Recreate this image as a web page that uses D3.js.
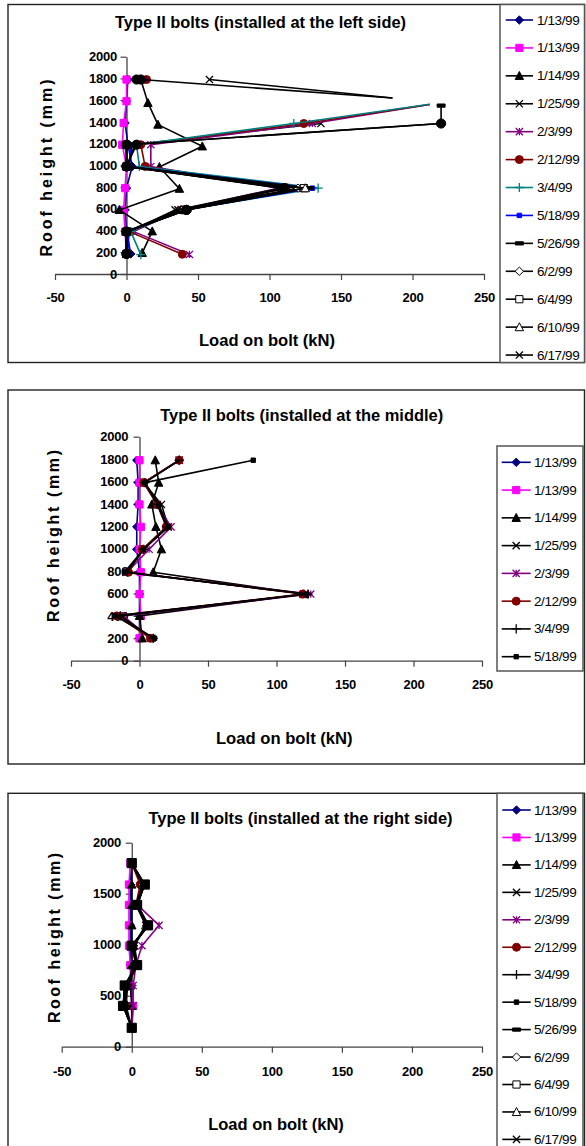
<!DOCTYPE html>
<html><head><meta charset="utf-8">
<script src="https://cdn.jsdelivr.net/npm/d3@7"></script>
<style>body{margin:0;background:#fff}svg{display:block}text{font-family:"Liberation Sans",Arial,sans-serif}</style>
</head><body>
<svg id="c" width="586" height="1146"></svg>
<script>
// ---------------- DATA ----------------
const xTicks = [-50, 0, 50, 100, 150, 200, 250];
const yTicks200 = [0, 200, 400, 600, 800, 1000, 1200, 1400, 1600, 1800, 2000];
const yTicks500 = [0, 500, 1000, 1500, 2000];

const legendNames = ['1/13/99','1/13/99','1/14/99','1/25/99','2/3/99','2/12/99','3/4/99','5/18/99','5/26/99','6/2/99','6/4/99','6/10/99','6/17/99'];

// Panel 1 (left side): [load kN, roof height mm]; null = gap in the line.
// Measured rows; points off these rows are line ends without a recorded marker.
const leftRows = [1790, 1575, 1590, 1550, 1390, 1385, 1375, 1190, 1175, 990, 985, 790, 785, 590, 393, 390, 195, 185, 182, 180, 178];
const left_0113a = [[1,1790],[0,1590],[-1,1390],[1,1190],[4,990],[0,790],[-1,590],[0,390],[3,185]];
const left_0113b = [[0,1790],[0,1590],[-2,1390],[-3,1190],[0,990],[-1,790],[-2,590],[-1,390],[0,185]];
const left_0114  = [[10,1790],[15,1575],[22,1375],[53,1175],[23,985],[37,785],[-5,590],[18,393],[11,195]];
const left_0125  = [[58,1790],[186,1620],null,[136,1385],[4,1190],[2,990],[124,790],[34,590],[2,390],[0,185]];
const left_0203  = [[212,1560],[130,1385],[17,1190],[17,990],[106,790],[38,590],[5,390],[44,180]];
const left_0212  = [[14,1790],null,[212,1560],[124,1385],[10,1190],[13,990],[111,790],[39,590],[2,390],[39,182]];
const left_0304  = [[212,1562],[117,1385],[7,1190],[9,990],[134,790],[40,590],[3,390],[10,178]];
const left_0518  = [[12,1790],null,[3,1190],[2,990],[130,790],[41,590],[1,390],[2,185]];
const left_0526  = [[10,1790],[186,1620],null,[220,1550],[220,1385],[0,1190],[0,990],[128,790],[42,590],[0,390],[0,185]];
const left_0602  = [[6,1190],[0,990],[120,790],[38,590],[0,390],[0,185]];
const left_0604  = [[0,1190],[0,990],[124,790],[40,590],[0,390],[0,185]];
const left_0610  = [[0,1190],[0,990],[125,790],[41,590],[0,390],[0,185]];
const left_0617  = [[0,1190],[0,990],[108,790],[36,590],[0,390],[0,185]];
const left_more1 = [[7,1790],null,[220,1385],[0,1190],[0,990],[111,790],[42,590],[0,390],[0,185]];
const left_more2 = [[10,1790],null,[7,1190],[0,990],[110,790],[42,590],[0,390],[0,185]];

// Panel 2 (middle): loads at each roof height
const midHeights = [1790, 1590, 1395, 1195, 995, 790, 595, 400, 200];
const mid_0113a = [-2, -1, -1, -2, -2, 0, 0, 0, 0];
const mid_0113b = [0, 0, 0, 1, 0, 1, 0, 1, 0];
const mid_0114  = [11.5, 14, 9, 12, 16, 10, 120, 0, 2];
const mid_0125  = [29, 3, 16, 21, 3, -10, 121, -15, 9];
const mid_0203  = [29, 3, 13, 23, 7, -9, 125, -12, 8];
const mid_0212  = [29, 3, 13, 19.5, 2, -8, 119, -16.5, 8];
const mid_0304  = [29, 4, 13, 20, 3, -9, 123, -14, 10];
const mid_0518  = [83, 4, 14, 21, 3, -11, 122, -18, 11];

// Panel 3 (right side)
const rightHeights = [1800, 1590, 1390, 1190, 990, 800, 600, 400, 185];
const right_0113a = [0, -1, -1, -1, -1, -1, 0, 0, 0];
const right_0113b = [-1, -2, -2, -2, -2, -1, -1, 1, 0];
const right_0114  = [0, 0, 0, 0, 0, 0, -1, 0, 0];
const right_0125  = [0, 8, 4, 10, 2, 4, -3, -4, 0];
const right_0203  = [0, 7, 4, 19.5, 7.3, 3, 1, 1, 0];
const right_0212  = [0, 6, 3, 12, 1, 4, -4, -5, 0];
const right_0304  = [0, 8, 4, 11, 1, 3, -4, -5, 0];
const right_0518  = [0, 9, 4, 12, 0, 4, -5, -6, 0];
const right_0526  = [0, 9, 3, 12, 0, 3, -5, -6, 0];
const right_0602  = [0, 8, 3, 11, 1, 3, -4, -5, 0];
const right_0604  = [0, 9, 4, 12, 0, 4, -5, -6, 0];
const right_0610  = [0, 8, 3, 10, 1, 4, -4, -5, 0];
const right_0617  = [0, 9, 4, 11, 1, 3, -4, -5, 0];
const right_more  = [0, 9.3, 3.8, 11.6, 0, 3.8, -5, -6.2, 0];

// ---------------- STYLES ----------------
const markerTypes = ['diamond','square','triangle','x','star','circle','plus','smallsq','dash','odiamond','osquare','otriangle','x'];
const colorsLeft  = ['#000080','#FF00FF','#000000','#000000','#800080','#800000','#008080','#0000FF','#000000','#000000','#000000','#000000','#000000'];
const colorsOther = ['#000080','#FF00FF','#000000','#000000','#800080','#800000','#000000','#000000','#000000','#000000','#000000','#000000','#000000'];

const pairs = (hs, vs) => vs.map((v, i) => [v, hs[i]]);

function markerPath(t) {
  const r = 3.6;
  switch (t) {
    case 'diamond': case 'odiamond': return `M0,${-r-0.6}L${r+0.6},0L0,${r+0.6}L${-r-0.6},0Z`;
    case 'square': case 'osquare': return `M${-r},${-r}h${2*r}v${2*r}h${-2*r}Z`;
    case 'triangle': case 'otriangle': return `M0,${-r-0.8}L${r+0.6},${r}L${-r-0.6},${r}Z`;
    case 'x': return `M${-r},${-r}L${r},${r}M${r},${-r}L${-r},${r}`;
    case 'star': return `M${-r},${-r}L${r},${r}M${r},${-r}L${-r},${r}M0,${-r}V${r}`;
    case 'circle': return `M${r+0.4},0A${r+0.4},${r+0.4} 0 1 1 ${-r-0.4},0A${r+0.4},${r+0.4} 0 1 1 ${r+0.4},0Z`;
    case 'bigcircle': return `M4.6,0A4.6,4.6 0 1 1 -4.6,0A4.6,4.6 0 1 1 4.6,0Z`;
    case 'bigsquare': return `M-4.6,-4.6h9.2v9.2h-9.2Z`;
    case 'plus': return `M${-r-1},0H${r+1}M0,${-r-1}V${r+1}`;
    case 'smallsq': return `M-2.2,-2.2h4.4v4.4h-4.4Z`;
    case 'dash': return `M-4,-1.6h8v3.2h-8Z`;
  }
}
function styleMarker(sel, t, color) {
  const open = t.startsWith('o');
  const stroked = (t === 'x' || t === 'star' || t === 'plus');
  sel.attr('d', markerPath(t))
    .attr('fill', stroked ? 'none' : (open ? '#fff' : color))
    .attr('stroke', color)
    .attr('stroke-width', stroked ? 1.3 : 1);
}

const svg = d3.select('#c');

function drawPanel(cfg) {
  const g = svg.append('g');
  const xs = d3.scaleLinear().domain([-50, 250]).range(cfg.xr);
  const ys = d3.scaleLinear().domain([0, 2000]).range(cfg.yr);

  g.append('rect').attr('x', cfg.frame[0]).attr('y', cfg.frame[1])
    .attr('width', cfg.frame[2] - cfg.frame[0]).attr('height', cfg.frame[3] - cfg.frame[1])
    .attr('fill', '#fff').attr('stroke', '#222').attr('stroke-width', 1.4);

  const xAxis = d3.axisBottom(xs).tickValues(xTicks).tickSize(6).tickSizeOuter(0)
    .tickPadding(cfg.xpad).tickFormat(d => String(d));
  const gx = g.append('g').attr('transform', `translate(0,${ys(0)})`).call(xAxis);
  const yAxis = d3.axisLeft(ys).tickValues(cfg.yTicks).tickSize(6).tickSizeOuter(0)
    .tickPadding(xs(0) - cfg.yLabelX - 6).tickFormat(d => String(d));
  const gy = g.append('g').attr('transform', `translate(${xs(0)},0)`).call(yAxis);
  [gx, gy].forEach(a => {
    a.select('.domain').attr('stroke', '#444').attr('stroke-width', 1.3);
    a.selectAll('.tick line').attr('stroke', '#444').attr('stroke-width', 1.2);
    a.selectAll('.tick text').attr('fill', '#000').attr('font-size', 13).attr('font-weight', 'bold')
      .attr('letter-spacing', -0.2).style('font-family', '"Liberation Sans", Arial, sans-serif');
  });

  const line = d3.line().defined(d => d != null).x(d => xs(d[0])).y(d => ys(d[1]));
  cfg.series.forEach(s => {
    g.append('path').attr('d', line(s.pts)).attr('fill', 'none')
      .attr('stroke', s.color).attr('stroke-width', 1.6).attr('stroke-linejoin', 'round');
    const pts = s.pts.filter(d => d != null && (!cfg.rows || cfg.rows.includes(d[1])));
    g.selectAll(null).data(pts).enter().append('path')
      .attr('transform', d => `translate(${xs(d[0])},${ys(d[1])})`)
      .call(sel => styleMarker(sel, s.marker, s.color));
  });

  g.append('text').attr('x', cfg.title[1]).attr('y', cfg.title[2]).attr('text-anchor', 'middle')
    .attr('font-size', 16).attr('font-weight', 'bold').attr('textLength', cfg.title[3])
    .attr('lengthAdjust', 'spacingAndGlyphs').text(cfg.title[0]);
  g.append('text').attr('transform', `translate(${cfg.yTitle[0]},${cfg.yTitle[1]}) rotate(-90)`)
    .attr('text-anchor', 'middle').attr('dy', '0.36em').attr('font-size', 16).attr('font-weight', 'bold')
    .attr('textLength', cfg.yTitle[2]).attr('lengthAdjust', 'spacing').text('Roof height (mm)');
  g.append('text').attr('x', cfg.xTitle[0]).attr('y', cfg.xTitle[1]).attr('text-anchor', 'middle')
    .attr('font-size', 16).attr('font-weight', 'bold').attr('textLength', cfg.xTitle[2])
    .attr('lengthAdjust', 'spacingAndGlyphs').text('Load on bolt (kN)');

  const L = cfg.legend;
  g.append('rect').attr('x', L.box[0]).attr('y', L.box[1]).attr('width', L.box[2] - L.box[0])
    .attr('height', L.box[3] - L.box[1]).attr('fill', '#fff').attr('stroke', '#555').attr('stroke-width', 1.5);
  const items = cfg.series.filter(s => s.name);
  items.forEach((s, i) => {
    const y = L.y0 + i * L.dy;
    g.append('line').attr('x1', L.lx[0]).attr('x2', L.lx[1]).attr('y1', y).attr('y2', y)
      .attr('stroke', s.color).attr('stroke-width', 1.6);
    g.append('path').attr('transform', `translate(${(L.lx[0] + L.lx[1]) / 2},${y})`)
      .call(sel => styleMarker(sel, s.marker, s.color));
    g.append('text').attr('x', L.tx).attr('y', y + 4.5).attr('font-size', 13.5)
      .attr('letter-spacing', -0.4).text(s.name);
  });
}

function build(list, colors, extra) {
  const out = list.map((pts, i) => ({ name: legendNames[i], pts, color: colors[i], marker: markerTypes[i] }));
  return out.concat(extra || []);
}

drawPanel({
  frame: [8, 4.5, 584.5, 362.5], xr: [55, 484], yr: [274, 56.7], yTicks: yTicks200,
  yLabelX: 117, xpad: 13, rows: leftRows,
  title: ['Type II bolts (installed at the left side)', 260.5, 28, 291],
  yTitle: [46.7, 168, 177], xTitle: [267, 346, 136],
  legend: { box: [500, 4.5, 584.5, 362.5], y0: 20, dy: 27.92, lx: [505.7, 533], tx: 537 },
  series: build([left_0113a, left_0113b, left_0114, left_0125, left_0203, left_0212, left_0304,
                 left_0518, left_0526, left_0602, left_0604, left_0610, left_0617], colorsLeft,
    [{ name: null, pts: left_more1, color: '#000', marker: 'bigcircle' },
     { name: null, pts: left_more2, color: '#000', marker: 'bigcircle' }])
});

drawPanel({
  frame: [8, 390, 584.5, 764], xr: [71, 482], yr: [660.7, 436.7], yTicks: yTicks200,
  yLabelX: 128.3, xpad: 13.5,
  title: ['Type II bolts (installed at the middle)', 301.7, 421, 283],
  yTitle: [53.3, 536, 172], xTitle: [284.3, 744, 136.7],
  legend: { box: [497, 446, 583, 671], y0: 462.3, dy: 27.77, lx: [501.7, 530.7], tx: 534 },
  series: build([mid_0113a, mid_0113b, mid_0114, mid_0125, mid_0203, mid_0212, mid_0304, mid_0518]
    .map(v => pairs(midHeights, v)), colorsOther)
});

drawPanel({
  frame: [8, 793.3, 584.5, 1160], xr: [61.7, 482], yr: [1046.7, 842.7], yTicks: yTicks500,
  yLabelX: 121, xpad: 14,
  title: ['Type II bolts (installed at the right side)', 300.5, 824, 304],
  yTitle: [54.3, 938, 170], xTitle: [276, 1130, 135.7],
  legend: { box: [497, 793.3, 583, 1160], y0: 810, dy: 27.45, lx: [502.3, 530.7], tx: 534 },
  series: build([right_0113a, right_0113b, right_0114, right_0125, right_0203, right_0212, right_0304,
                 right_0518, right_0526, right_0602, right_0604, right_0610, right_0617]
    .map(v => pairs(rightHeights, v)), colorsOther,
    [{ name: null, pts: pairs(rightHeights, right_more), color: '#000', marker: 'bigsquare' }])
});
</script>
</body></html>
